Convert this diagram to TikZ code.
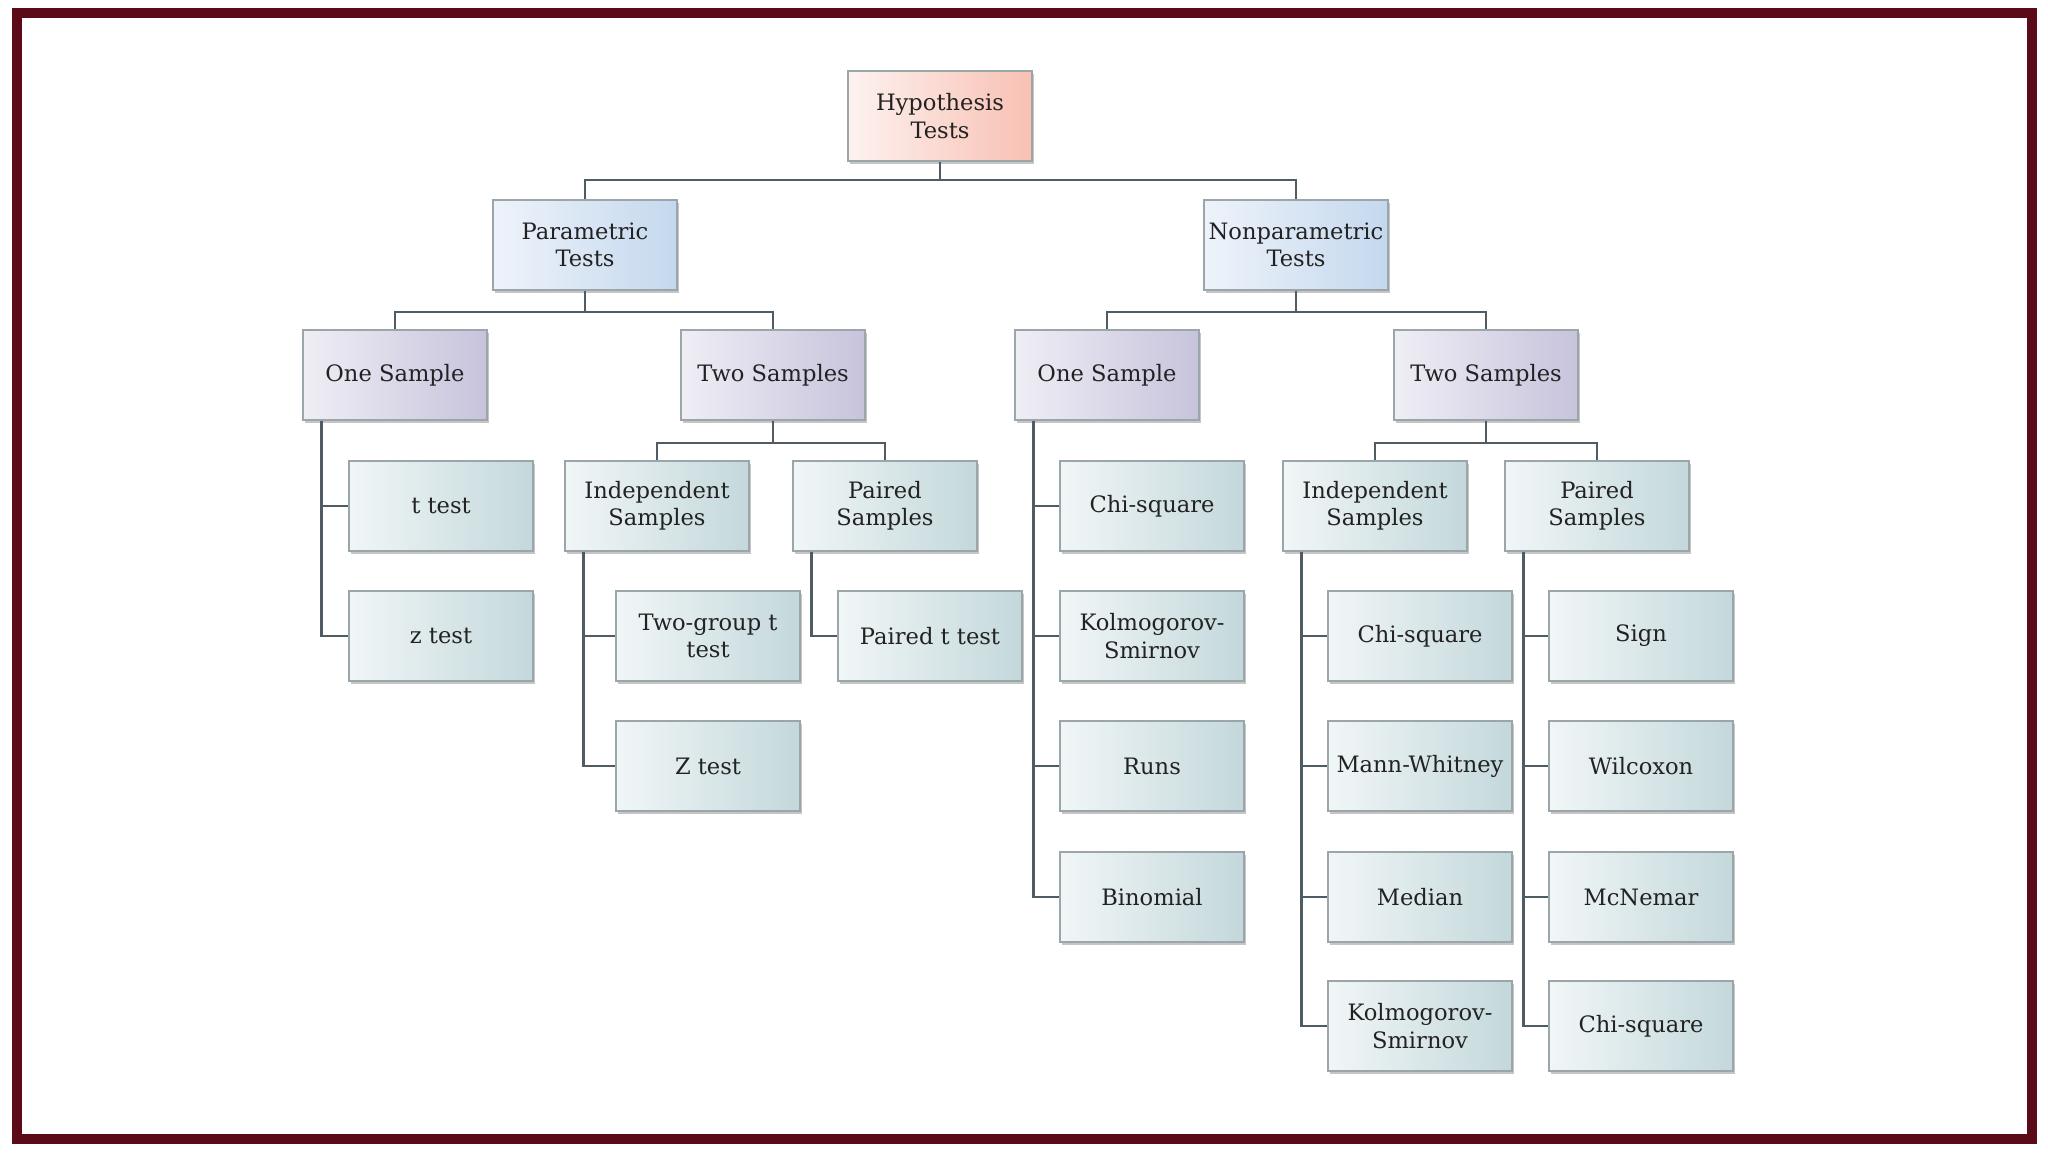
\documentclass[tikz,border=0pt]{standalone}
\usepackage{fontspec}
\setmainfont{DejaVu Serif}
\usetikzlibrary{shadows}
\definecolor{framec}{HTML}{5B0B18}
\definecolor{connc}{HTML}{4F5C63}
\definecolor{bordc}{HTML}{9AA6AA}
\definecolor{txtc}{HTML}{222222}
\definecolor{hypL}{HTML}{FDF2F0}
\definecolor{hypR}{HTML}{F8C0B2}
\definecolor{parL}{HTML}{EEF3FA}
\definecolor{parR}{HTML}{C4D8EE}
\definecolor{oneL}{HTML}{EFEEF5}
\definecolor{oneR}{HTML}{C7C3DC}
\definecolor{leafL}{HTML}{F1F6F7}
\definecolor{leafR}{HTML}{C3D8DB}
\tikzset{
  box/.style={draw=bordc, line width=0.6pt, minimum width=92pt, minimum height=45pt,
    align=center, inner sep=1pt, text=txtc, font=\fontsize{11.3}{13.6}\selectfont,
    drop shadow={shadow xshift=1.2pt, shadow yshift=-1.5pt, opacity=0.45, fill=gray}},
  hypbox/.style={box, left color=hypL, right color=hypR},
  parbox/.style={box, left color=parL, right color=parR},
  onebox/.style={box, left color=oneL, right color=oneR},
  leafbox/.style={box, left color=leafL, right color=leafR},
  conn/.style={draw=connc, line width=1.3pt},
}
\begin{document}
\begin{tikzpicture}[x=0.5pt,y=-0.5pt]
\useasboundingbox (0,0) rectangle (2048,1152);
\fill[white] (0,0) rectangle (2048,1152);
\draw[framec, line width=4.6pt] (17,13) rectangle (2032,1139);

\coordinate (b1) at (0,180);
\coordinate (b2) at (0,312);
\coordinate (b3) at (0,443);

% level 1-2
\node[hypbox] (hyp) at (940,116) {Hypothesis\\Tests};
\node[parbox] (par) at (585,245) {Parametric\\Tests};
\node[parbox] (npar) at (1296,245) {Nonparametric\\Tests};
% level 3
\node[onebox] (p1) at (395,375) {One Sample};
\node[onebox] (p2) at (773,375) {Two Samples};
\node[onebox] (n1) at (1107,375) {One Sample};
\node[onebox] (n2) at (1486,375) {Two Samples};
% level 4
\node[leafbox] (ttest) at (441,506) {t test};
\node[leafbox] (pind) at (657,506) {Independent\\Samples};
\node[leafbox] (ppair) at (885,506) {Paired\\Samples};
\node[leafbox] (nchi) at (1152,506) {Chi-square};
\node[leafbox] (nind) at (1375,506) {Independent\\Samples};
\node[leafbox] (npair) at (1597,506) {Paired\\Samples};
% level 5
\node[leafbox] (ztest) at (441,636) {z test};
\node[leafbox] (twog) at (708,636) {Two-group t\\test};
\node[leafbox] (pairt) at (930,636) {Paired t test};
\node[leafbox] (nks) at (1152,636) {Kolmogorov-\\Smirnov};
\node[leafbox] (ichi) at (1420,636) {Chi-square};
\node[leafbox] (sign) at (1641,636) {Sign};
% level 6
\node[leafbox] (zt) at (708,766) {Z test};
\node[leafbox] (runs) at (1152,766) {Runs};
\node[leafbox] (mw) at (1420,766) {Mann-Whitney};
\node[leafbox] (wil) at (1641,766) {Wilcoxon};
% level 7
\node[leafbox] (bin) at (1152,897) {Binomial};
\node[leafbox] (med) at (1420,897) {Median};
\node[leafbox] (mcn) at (1641,897) {McNemar};
% level 8
\node[leafbox] (iks) at (1420,1026) {Kolmogorov-\\Smirnov};
\node[leafbox] (pchi) at (1641,1026) {Chi-square};

% tree connectors
\draw[conn] (hyp.south) -- (hyp.south |- b1) -| (par.north);
\draw[conn] (hyp.south |- b1) -| (npar.north);
\draw[conn] (par.south) -- (par.south |- b2) -| (p1.north);
\draw[conn] (par.south |- b2) -| (p2.north);
\draw[conn] (npar.south) -- (npar.south |- b2) -| (n1.north);
\draw[conn] (npar.south |- b2) -| (n2.north);
\draw[conn] (p2.south) -- (p2.south |- b3) -| (pind.north);
\draw[conn] (p2.south |- b3) -| (ppair.north);
\draw[conn] (n2.south) -- (n2.south |- b3) -| (nind.north);
\draw[conn] (n2.south |- b3) -| (npair.north);
% side connectors
\foreach \c in {ttest,ztest} \draw[conn] ([xshift=9.5pt]p1.south west) |- (\c.west);
\foreach \c in {twog,zt} \draw[conn] ([xshift=9.5pt]pind.south west) |- (\c.west);
\foreach \c in {pairt} \draw[conn] ([xshift=9.5pt]ppair.south west) |- (\c.west);
\foreach \c in {nchi,nks,runs,bin} \draw[conn] ([xshift=9.5pt]n1.south west) |- (\c.west);
\foreach \c in {ichi,mw,med,iks} \draw[conn] ([xshift=9.5pt]nind.south west) |- (\c.west);
\foreach \c in {sign,wil,mcn,pchi} \draw[conn] ([xshift=9.5pt]npair.south west) |- (\c.west);
\end{tikzpicture}
\end{document}
